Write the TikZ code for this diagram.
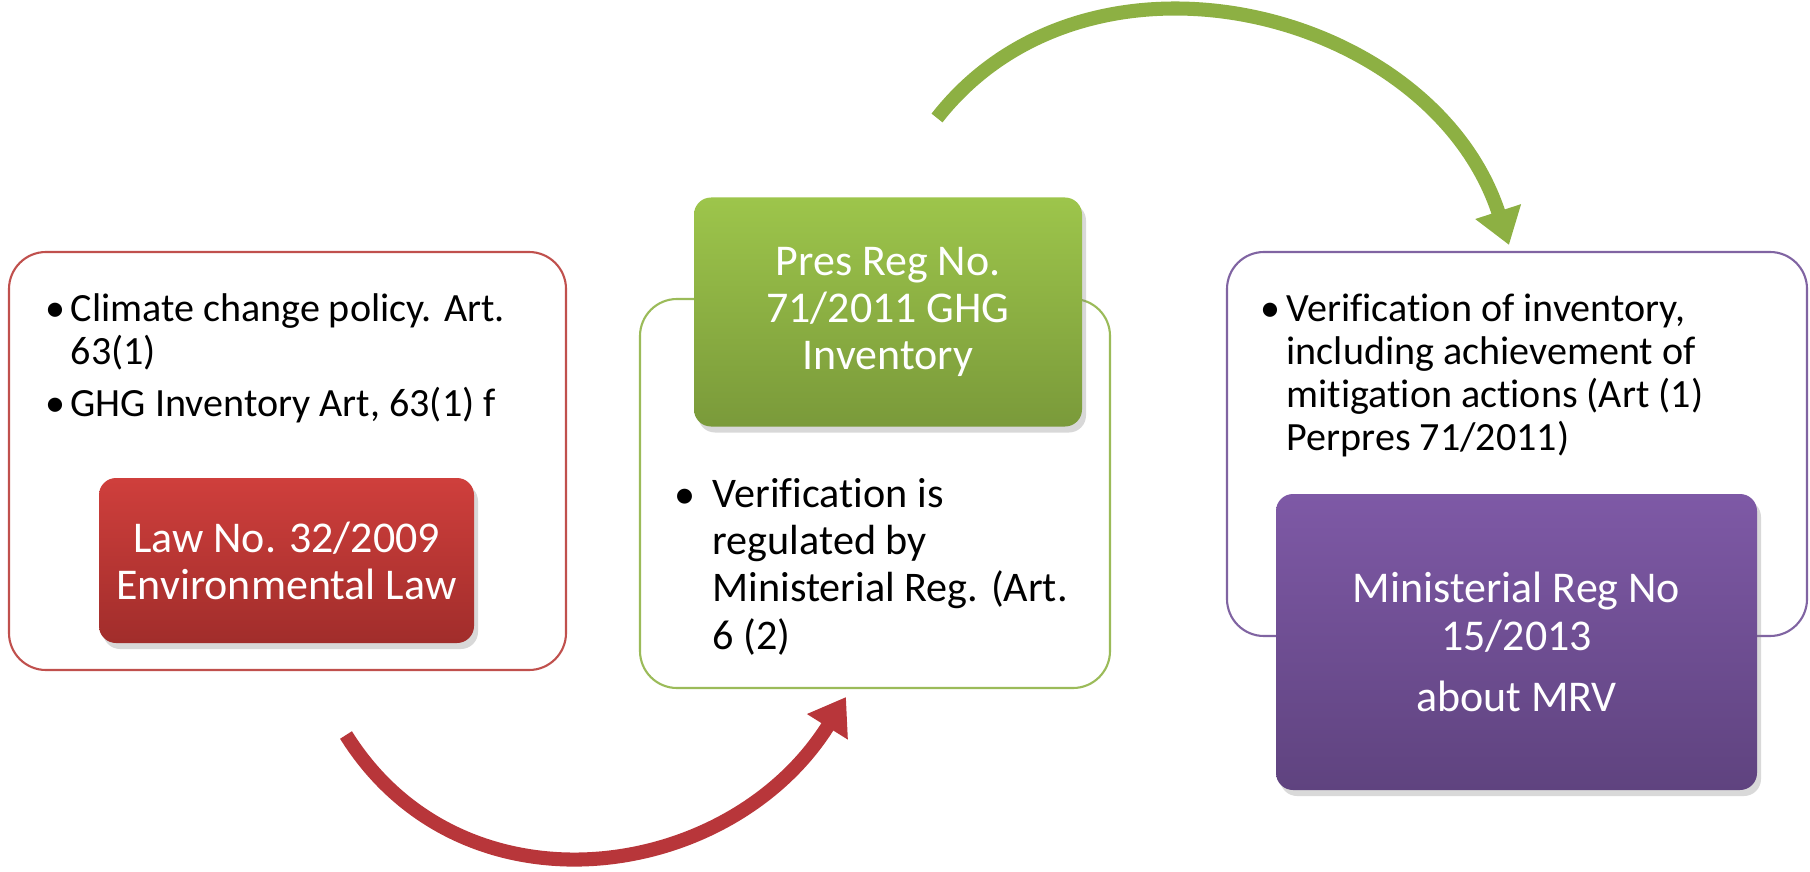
\documentclass[tikz,border=0pt]{standalone}
\usepackage{fontspec}
\setmainfont{Carlito}[Ligatures=NoCommon]
\usetikzlibrary{arrows.meta,shadows}

\definecolor{lawline}{HTML}{C0504D}
\definecolor{lawtop}{HTML}{CF3F3C}
\definecolor{lawbot}{HTML}{A12D2B}
\definecolor{presline}{HTML}{9BBB59}
\definecolor{prestop}{HTML}{9DC54B}
\definecolor{presbot}{HTML}{7A9A3A}
\definecolor{minline}{HTML}{8064A2}
\definecolor{mintop}{HTML}{7E59A6}
\definecolor{minbot}{HTML}{5F437F}
\definecolor{redarrow}{HTML}{B8363A}
\definecolor{greenarrow}{HTML}{8DB043}

\tikzset{
  outbox/.style={draw=#1, line width=0.6pt, fill=white, rounded corners=0.37cm,
    inner sep=0pt, outer sep=0pt},
  regbox/.style 2 args={top color=#1, bottom color=#2, rounded corners=0.17cm,
    inner sep=0pt, outer sep=0pt, text=white, align=center,
    font=\fontsize{12.5}{13.4}\selectfont,
    drop shadow={opacity=0.3, shadow xshift=0.04cm, shadow yshift=-0.06cm}},
  dot/.style={inner sep=0pt, anchor=base, font=\fontsize{11.4}{12.2}\selectfont},
  btext/.style={inner sep=0pt, align=left, anchor=base west,
    font=\fontsize{11.4}{12.2}\selectfont},
  flow/.style={line width=4pt, -{Triangle[width=13pt,length=10pt]}}
}

\begin{document}
\begin{tikzpicture}
\useasboundingbox (0,0) rectangle (18.10,-8.72);

% outer boxes
\node[outbox=lawline, minimum width=5.57cm, minimum height=4.18cm] (lawbox) at (2.875,-4.61) {};
\node[outbox=presline, minimum width=4.70cm, minimum height=3.89cm] (presbox) at (8.75,-4.935) {};
\node[outbox=minline, minimum width=5.80cm, minimum height=3.84cm] (minbox) at (15.17,-4.44) {};

% bullet texts (node base = last line)
\node[dot] (lawdot1) at (0.55,-3.21) {\textbullet};
\node[btext] (lawtxt1) at (0.70,-3.64) {Climate change policy. Art.\\63(1)};
\node[dot] (lawdot2) at (0.55,-4.16) {\textbullet};
\node[btext] (lawtxt2) at (0.70,-4.16) {GHG Inventory Art, 63(1) f};

\node[dot, font=\fontsize{12}{13.4}\selectfont] (presdot) at (6.85,-5.08) {\textbullet};
\node[btext, font=\fontsize{12}{13.4}\selectfont] (prestxt) at (7.12,-6.49)
  {Verification is\\regulated by\\Ministerial Reg. (Art.\\6 (2)};

\node[dot] (mindot) at (12.70,-3.21) {\textbullet};
\node[btext] (mintxt) at (12.86,-4.50)
  {Verification of inventory,\\including achievement of\\mitigation actions (Art (1)\\Perpres 71/2011)};

% regulation boxes
\node[regbox={lawtop}{lawbot}, minimum width=3.75cm, minimum height=1.65cm] (lawreg) at (2.865,-5.605)
  {Law No. 32/2009\\Environmental Law};
\node[regbox={prestop}{presbot}, minimum width=3.88cm, minimum height=2.29cm] (presreg) at (8.88,-3.12)
  {Pres Reg No.\\71/2011 GHG\\Inventory};
\node[regbox={mintop}{minbot}, minimum width=4.81cm, minimum height=2.96cm] (minreg) at (15.165,-6.42)
  {Ministerial Reg No\\15/2013\\[4pt]about MRV};

% arrows
\coordinate (redtail) at (3.46,-7.35);
\coordinate (redhead) at (8.46,-6.97);
\coordinate (greentail) at (9.37,-1.18);
\coordinate (greenhead) at (15.09,-2.45);
\draw[flow, redarrow] (redtail) to[out=-58, in=-122, looseness=1.12] (redhead);
\draw[flow, greenarrow] (greentail) to[out=52, in=108, looseness=1.08] (greenhead);

\end{tikzpicture}
\end{document}
